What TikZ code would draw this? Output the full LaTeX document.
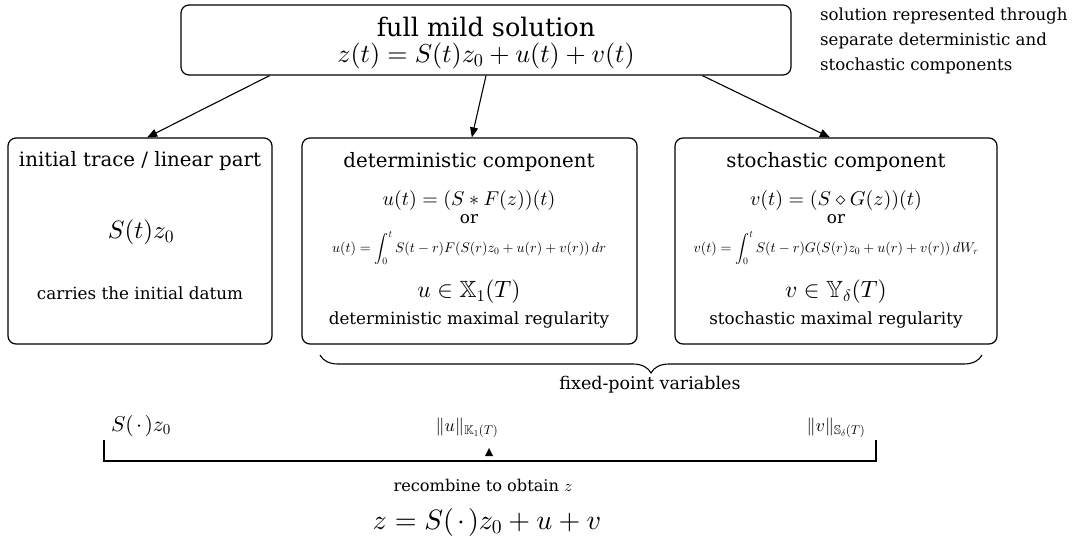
\documentclass[tikz,border=0pt]{standalone}
\usepackage{amssymb}
\usepackage{fontspec}
\setmainfont{DejaVu Serif}
\DeclareFontFamily{OML}{cmm}{\skewchar\font'177}
\DeclareFontShape{OML}{cmm}{m}{it}{<->cmmi10}{}
\DeclareFontFamily{OMS}{cmsy}{\skewchar\font'60}
\DeclareFontShape{OMS}{cmsy}{m}{n}{<->cmsy10}{}
\DeclareFontFamily{OMX}{cmex}{}
\DeclareFontShape{OMX}{cmex}{m}{n}{<->cmex10}{}
\DeclareFontFamily{OT1}{cmr}{\hyphenchar\font45 }
\DeclareFontShape{OT1}{cmr}{m}{n}{<->cmr10}{}
\DeclareFontFamily{U}{msb}{}
\DeclareFontShape{U}{msb}{m}{n}{<->msbm10}{}
\usetikzlibrary{arrows.meta,calc,decorations.pathreplacing}
\newcommand{\fsz}[1]{\fontsize{#1}{1.2\dimexpr#1pt\relax}\selectfont}
\tikzset{
  box/.style={draw, rounded corners=8pt, line width=1.2pt, inner sep=0pt},
  arr/.style={line width=1.1pt, -{Triangle[length=10pt,width=8pt]}},
  lbl/.style={inner sep=0pt, anchor=center},
}
\begin{document}
\begin{tikzpicture}[x=1pt,y=-1pt]
\useasboundingbox (0,0) rectangle (1076,543);
% boxes
\node[box, minimum width=610pt, minimum height=70pt] (top) at (486,40) {};
\node[box, minimum width=264pt, minimum height=206pt] (left) at (140,241) {};
\node[box, minimum width=335pt, minimum height=206pt] (mid) at (469.5,241) {};
\node[box, minimum width=322pt, minimum height=206pt] (right) at (836,241) {};
% top texts
\node[lbl, font=\fsz{25.5}] (title) at (486,27) {full mild solution};
\node[lbl, font=\fsz{26}] (titlef) at (486,56) {$z(t)=S(t)z_0+u(t)+v(t)$};
\node[lbl, anchor=north west, align=left, font=\fontsize{16.6}{25}\selectfont] (note) at (820,8) {solution represented through\\separate deterministic and\\stochastic components};
% left texts
\node[lbl, font=\fsz{19.8}] (lh) at (140,161) {initial trace / linear part};
\node[lbl, font=\fsz{25}] (lf) at (141,232) {$S(t)z_0$};
\node[lbl, font=\fsz{16.8}] (ls) at (140,293) {carries the initial datum};
% mid texts
\node[lbl, font=\fsz{19.8}] (mh) at (469,162) {deterministic component};
\node[lbl, font=\fsz{20}] (mf) at (469,200) {$u(t)=(S*F(z))(t)$};
\node[lbl, font=\fsz{16.8}] (mo) at (469,219) {or};
\node[lbl, font=\fsz{14}] (mi) at (469,248) {$u(t)=\displaystyle\int_0^t S(t-r)F(S(r)z_0+u(r)+v(r))\,dr$};
\node[lbl, font=\fsz{23.5}] (mx) at (469,292) {$u\in\mathbb{X}_1(T)$};
\node[lbl, font=\fsz{16.8}] (ms) at (469,320) {deterministic maximal regularity};
% right texts
\node[lbl, font=\fsz{19.8}] (rh) at (836,162) {stochastic component};
\node[lbl, font=\fsz{20}] (rf) at (836,200) {$v(t)=(S\diamond G(z))(t)$};
\node[lbl, font=\fsz{16.8}] (ro) at (836,219) {or};
\node[lbl, font=\fsz{14}] (ri) at (836,248) {$v(t)=\displaystyle\int_0^t S(t-r)G(S(r)z_0+u(r)+v(r))\,dW_r$};
\node[lbl, font=\fsz{23.5}] (rx) at (836,292) {$v\in\mathbb{Y}_\delta(T)$};
\node[lbl, font=\fsz{16.8}] (rs) at (836,320) {stochastic maximal regularity};
% arrows
\draw[arr] ($(top.south west)!0.146!(top.south east)$) -- ($(left.north west)!0.527!(left.north east)$);
\draw[arr] ($(top.south west)!0.50!(top.south east)$) -- ($(mid.north west)!0.507!(mid.north east)$);
\draw[arr] ($(top.south west)!0.854!(top.south east)$) -- ($(right.north west)!0.481!(right.north east)$);
% brace
\coordinate (b1) at (320,355);
\coordinate (b2) at (982,355);
\draw[line width=1.1pt, decorate, decoration={brace, mirror, amplitude=18pt}] (b1) -- (b2);
\node[lbl, font=\fsz{17.5}] (fp) at (650,385) {fixed-point variables};
% bottom
\node[lbl, font=\fsz{21.5}] (bs) at (141,426) {$S(\mkern2mu\cdot\mkern2mu)z_0$};
\node[lbl, font=\fsz{18}] (bu) at (467,428) {$\|u\|_{\mathbb{K}_1(T)}$};
\node[lbl, font=\fsz{18}] (bv) at (836,428) {$\|v\|_{\mathbb{S}_\delta(T)}$};
\coordinate (k1) at (104,440);
\coordinate (k2) at (104,461);
\coordinate (k3) at (876,461);
\coordinate (k4) at (876,440);
\draw[line width=1.1pt] (k1) -- (k2) -- (k3) -- (k4);
\fill (489,448) -- (485,456) -- (493,456) -- cycle;
\node[lbl, font=\fsz{16.2}] (rc) at (483,485) {recombine to obtain $z$};
\node[lbl, font=\fsz{28}] (zf) at (487,522) {$z=S(\mkern2mu\cdot\mkern2mu)z_0+u+v$};
\end{tikzpicture}
\end{document}
